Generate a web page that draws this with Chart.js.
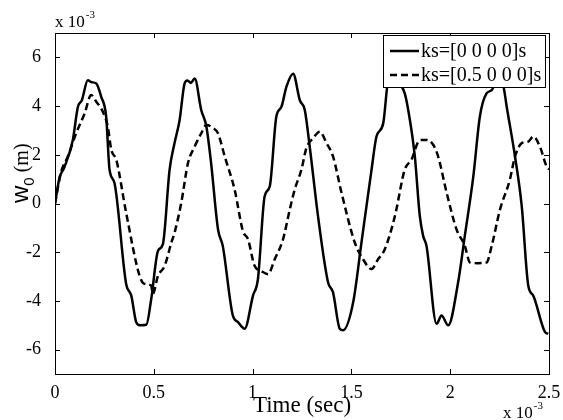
<!DOCTYPE html>
<html>
<head>
<meta charset="utf-8">
<script src="https://cdn.jsdelivr.net/npm/chart.js@4/dist/chart.umd.min.js"></script>
<style>
  html, body { margin: 0; padding: 0; background: #fff; }
  #wrap { width: 563px; height: 420px; }
</style>
</head>
<body>
<div id="wrap"><canvas id="myChart"></canvas></div>
<script>
// time in ms (x 10^-3 s), displacement in mm (x 10^-3 m)
var xTicks = [0, 0.5, 1, 1.5, 2, 2.5];
var yTicks = [-6, -4, -2, 0, 2, 4, 6];
var seriesNames = ["ks=[0 0 0 0]s", "ks=[0.5 0 0 0]s"];

var timeA = [0, 0.023, 0.048, 0.09, 0.116, 0.136, 0.166, 0.185, 0.209, 0.234, 0.259, 0.276, 0.301, 0.36, 0.386, 0.411, 0.43, 0.462, 0.487, 0.521, 0.546, 0.58, 0.605, 0.63, 0.656, 0.67, 0.688, 0.707, 0.74, 0.766, 0.79, 0.825, 0.849, 0.9, 0.926, 0.96, 1.002, 1.027, 1.061, 1.087, 1.12, 1.146, 1.171, 1.205, 1.239, 1.264, 1.289, 1.331, 1.382, 1.407, 1.441, 1.458, 1.509, 1.551, 1.602, 1.627, 1.661, 1.686, 1.71, 1.735, 1.77, 1.796, 1.821, 1.846, 1.863, 1.88, 1.931, 1.956, 1.99, 2.04, 2.074, 2.117, 2.15, 2.184, 2.21, 2.235, 2.255, 2.27, 2.286, 2.328, 2.362, 2.395, 2.42, 2.48, 2.496];
var wA = [0, 1.06, 1.5, 2.6, 3.97, 4.24, 5.06, 4.98, 4.93, 4.38, 3.56, 1.39, 0.84, -3.3, -3.78, -4.87, -5.0, -4.98, -3.92, -1.95, -1.67, 1.39, 2.48, 3.4, 4.93, 5.05, 4.95, 5.13, 3.84, 3.16, 1.66, -1.06, -1.74, -4.6, -4.87, -5.14, -3.78, -3.1, 0.3, 0.71, 3.56, 3.97, 4.79, 5.33, 4.24, 3.84, 2.34, -0.52, -3.24, -3.65, -5.14, -5.2, -4.05, -1.6, 1.39, 2.75, 3.29, 5.06, 5.3, 5.0, 4.52, 3.43, 1.93, -0.5, -1.33, -1.74, -4.94, -4.6, -5.0, -3.24, -1.33, 1.11, 3.56, 4.52, 4.65, 5.06, 5.1, 4.79, 3.97, 1.93, -0.11, -3.37, -3.78, -5.28, -5.35];

var timeB = [0, 0.031, 0.065, 0.107, 0.15, 0.183, 0.209, 0.242, 0.267, 0.285, 0.31, 0.36, 0.428, 0.453, 0.487, 0.495, 0.521, 0.555, 0.589, 0.605, 0.639, 0.673, 0.707, 0.74, 0.766, 0.8, 0.825, 0.859, 0.909, 0.951, 0.977, 1.01, 1.045, 1.078, 1.112, 1.154, 1.188, 1.213, 1.247, 1.272, 1.306, 1.34, 1.374, 1.407, 1.45, 1.517, 1.559, 1.602, 1.635, 1.669, 1.72, 1.77, 1.804, 1.846, 1.88, 1.914, 1.939, 1.982, 2.032, 2.074, 2.1, 2.14, 2.184, 2.21, 2.252, 2.302, 2.328, 2.362, 2.395, 2.42, 2.454, 2.488, 2.5];
var wB = [0, 1.3, 1.93, 2.88, 3.7, 4.45, 4.18, 3.77, 3.16, 2.2, 1.8, -0.38, -2.97, -3.3, -3.37, -3.71, -2.97, -2.56, -1.6, -1.2, 0.03, 1.66, 2.34, 2.88, 3.22, 3.1, 2.88, 1.93, 0.57, -1.13, -1.47, -2.56, -2.78, -2.9, -2.29, -1.47, -0.25, 0.57, 1.39, 2.27, 2.68, 2.95, 2.48, 1.93, 0.44, -1.6, -2.29, -2.69, -2.29, -1.88, -0.52, 1.39, 1.8, 2.6, 2.61, 2.41, 1.93, 0.44, -1.06, -1.74, -2.42, -2.45, -2.42, -1.74, -0.25, 0.98, 1.93, 2.48, 2.54, 2.75, 2.34, 1.52, 1.4];

function toPoints(xs, ys) {
  return xs.map(function (x, i) { return { x: x, y: ys[i] }; });
}

var serif = "'Liberation Serif', 'Times New Roman', serif";
var sans = "'Liberation Sans', Arial, sans-serif";

// box, inward ticks, exponent labels, y title and legend (MATLAB look)
var matlabFrame = {
  id: "matlabFrame",
  afterDraw: function (chart) {
    var ctx = chart.ctx;
    var a = chart.chartArea;
    var xs = chart.scales.x, ys = chart.scales.y;
    ctx.save();
    ctx.strokeStyle = "#000";
    ctx.lineWidth = 1;
    ctx.strokeRect(a.left + 0.5, a.top + 0.5, a.right - a.left, a.bottom - a.top);
    ctx.beginPath();
    xTicks.forEach(function (v) {
      var px = Math.round(xs.getPixelForValue(v)) + 0.5;
      ctx.moveTo(px, a.bottom); ctx.lineTo(px, a.bottom - 5);
      ctx.moveTo(px, a.top); ctx.lineTo(px, a.top + 5);
    });
    yTicks.forEach(function (v) {
      var py = Math.round(ys.getPixelForValue(v)) + 0.5;
      ctx.moveTo(a.left, py); ctx.lineTo(a.left + 5, py);
      ctx.moveTo(a.right, py); ctx.lineTo(a.right - 5, py);
    });
    ctx.stroke();

    // "x 10^-3" multipliers
    ctx.fillStyle = "#000";
    ctx.textBaseline = "alphabetic";
    ctx.textAlign = "left";
    function exponent(x, y) {
      ctx.font = "17px " + serif;
      ctx.fillText("x 10", x, y);
      var w = ctx.measureText("x 10").width;
      ctx.font = "11px " + serif;
      ctx.fillText("-3", x + w + 1, y - 9);
    }
    exponent(a.left, a.top - 6);
    exponent(a.right - 46, 418);

    // y title: w_0 (m)
    ctx.save();
    ctx.translate(28, 203);
    ctx.rotate(-Math.PI / 2);
    ctx.textAlign = "left";
    ctx.font = "24px " + sans;
    ctx.fillText("w", 0, 0);
    var t = ctx.measureText("w").width;
    ctx.font = "15px " + sans;
    ctx.fillText("0", t, 6);
    t += ctx.measureText("0").width + 5;
    ctx.font = "20px " + serif;
    ctx.fillText("(m)", t, 0);
    ctx.restore();

    // legend
    var lx = 383, ly = 35, lw = 162, lh = 52;
    ctx.fillStyle = "#fff";
    ctx.fillRect(lx, ly, lw, lh);
    ctx.strokeStyle = "#000";
    ctx.lineWidth = 1;
    ctx.strokeRect(lx + 0.5, ly + 0.5, lw, lh);
    chart.data.datasets.forEach(function (ds, i) {
      var cy = ly + 16 + i * 24;
      ctx.beginPath();
      ctx.lineWidth = ds.borderWidth;
      ctx.setLineDash(ds.borderDash || []);
      ctx.moveTo(lx + 7, cy);
      ctx.lineTo(lx + 36, cy);
      ctx.stroke();
      ctx.setLineDash([]);
      ctx.fillStyle = "#000";
      ctx.font = "20px " + serif;
      ctx.textBaseline = "middle";
      ctx.fillText(ds.label, lx + 38, cy + 1);
    });
    ctx.restore();
  }
};

var ctx = document.getElementById("myChart");
var myChart = new Chart(ctx, {
  type: "line",
  data: {
    datasets: [
      {
        label: seriesNames[0],
        data: toPoints(timeA, wA),
        borderColor: "#000",
        borderWidth: 2.5,
        pointRadius: 0,
        cubicInterpolationMode: "monotone",
        fill: false
      },
      {
        label: seriesNames[1],
        data: toPoints(timeB, wB),
        borderColor: "#000",
        borderWidth: 2.5,
        borderDash: [7, 4],
        pointRadius: 0,
        cubicInterpolationMode: "monotone",
        fill: false
      }
    ]
  },
  options: {
    responsive: true,
    maintainAspectRatio: false,
    animation: false,
    layout: { padding: { top: 33, right: 14, left: 0, bottom: 0 } },
    plugins: {
      legend: { display: false },
      tooltip: { enabled: false }
    },
    scales: {
      x: {
        type: "linear",
        min: 0,
        max: 2.5,
        grid: { display: false },
        border: { display: false },
        afterBuildTicks: function (s) { s.ticks = xTicks.map(function (v) { return { value: v }; }); },
        afterFit: function (s) { s.height = 46; },
        ticks: {
          color: "#000",
          padding: 0,
          maxRotation: 0,
          font: { family: serif, size: 18 },
          callback: function (v) { return String(v); }
        },
        title: {
          display: true,
          text: "Time (sec)",
          color: "#000",
          padding: { top: -2, bottom: 0 },
          font: { family: serif, size: 23 }
        }
      },
      y: {
        min: -7,
        max: 7,
        grid: { display: false },
        border: { display: false },
        afterBuildTicks: function (s) { s.ticks = yTicks.map(function (v) { return { value: v }; }); },
        afterFit: function (s) { s.width = 55; },
        ticks: {
          color: "#000",
          padding: 6,
          font: { family: serif, size: 18 },
          callback: function (v) { return String(v); }
        }
      }
    }
  },
  plugins: [matlabFrame]
});
</script>
</body>
</html>
